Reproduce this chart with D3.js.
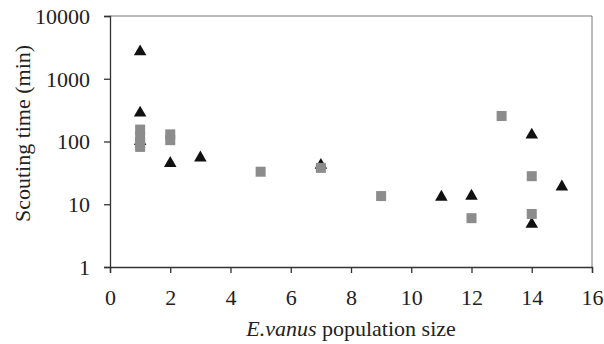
<!DOCTYPE html>
<html>
<head>
<meta charset="utf-8">
<script src="https://cdn.jsdelivr.net/npm/d3@7"></script>
</head>
<body style="margin:0">
<script>
var width = 604;
var height = 344;
var margin = {top: 16, right: 12, bottom: 77, left: 110};
var fontName = "Times New Roman";

// black triangles
var triX = [1, 1, 1, 2, 3, 7, 11, 12, 14, 14, 15];
var triY = [2700, 285, 100, 45, 55, 42, 13, 13.5, 127, 4.8, 19];
// grey squares
var sqX = [1, 1, 1, 1, 2, 2, 5, 7, 9, 12, 13, 14, 14];
var sqY = [155, 120, 95, 82, 130, 105, 33, 38, 13.5, 6, 255, 28, 7];

var xTicks = [0, 2, 4, 6, 8, 10, 12, 14, 16];
var yTicks = [1, 10, 100, 1000, 10000];

var svg = d3.select("body").append("svg")
    .attr("width", width)
    .attr("height", height)
    .attr("font-family", fontName);

var x = d3.scaleLinear().domain([0, 16]).range([margin.left, width - margin.right]);
var y = d3.scaleLog().domain([1, 10000]).range([height - margin.bottom, margin.top]);

// frame (top & right)
svg.append("path")
    .attr("d", "M" + x(0) + "," + y(10000) + "H" + x(16) + "V" + y(1))
    .attr("fill", "none")
    .attr("stroke", "#777")
    .attr("stroke-width", 1);

var xAxis = svg.append("g")
    .attr("transform", "translate(0," + y(1) + ")")
    .call(d3.axisBottom(x).tickValues(xTicks).tickSize(6).tickPadding(13).tickFormat(d3.format("d")));

var yAxis = svg.append("g")
    .attr("transform", "translate(" + x(0) + ",0)")
    .call(d3.axisLeft(y).tickValues(yTicks).tickSize(6).tickPadding(14).tickFormat(d3.format("d")));

[xAxis, yAxis].forEach(function(a) {
    a.attr("font-family", fontName).attr("font-size", 22);
    a.select(".domain").attr("stroke", "#333").attr("stroke-width", 1.3);
    a.selectAll(".tick line").attr("stroke", "#333").attr("stroke-width", 1.3);
    a.selectAll(".tick text")
        .attr("font-family", fontName)
        .attr("font-size", 22)
        .attr("fill", "#222");
});
xAxis.selectAll(".tick text").attr("dy", "0.85em");
yAxis.selectAll(".tick text").attr("dy", "0.33em");

// triangles first so squares sit on top
var tri = d3.symbol().type(d3.symbolTriangle).size(68);
svg.append("g").selectAll("path")
    .data(triX)
    .join("path")
    .attr("d", tri)
    .attr("transform", (d, i) => "translate(" + x(d) + "," + y(triY[i]) + ")")
    .attr("fill", "#111");

var s = 10;
svg.append("g").selectAll("rect")
    .data(sqX)
    .join("rect")
    .attr("x", d => x(d) - s / 2)
    .attr("y", (d, i) => y(sqY[i]) - s / 2)
    .attr("width", s)
    .attr("height", s)
    .attr("fill", "#8c8c8c");

// axis titles
svg.append("text")
    .attr("transform", "translate(30," + ((margin.top + height - margin.bottom) / 2 - 8) + ") rotate(-90)")
    .attr("text-anchor", "middle")
    .attr("fill", "#222")
    .attr("font-family", fontName)
    .attr("font-size", 22)
    .text("Scouting time (min)");

var xt = svg.append("text")
    .attr("x", (x(0) + x(16)) / 2)
    .attr("y", 336)
    .attr("text-anchor", "middle")
    .attr("fill", "#222")
    .attr("font-family", fontName)
    .attr("font-size", 22);
xt.append("tspan").attr("font-style", "italic").text("E.vanus");
xt.append("tspan").text(" population size");
</script>
</body>
</html>
